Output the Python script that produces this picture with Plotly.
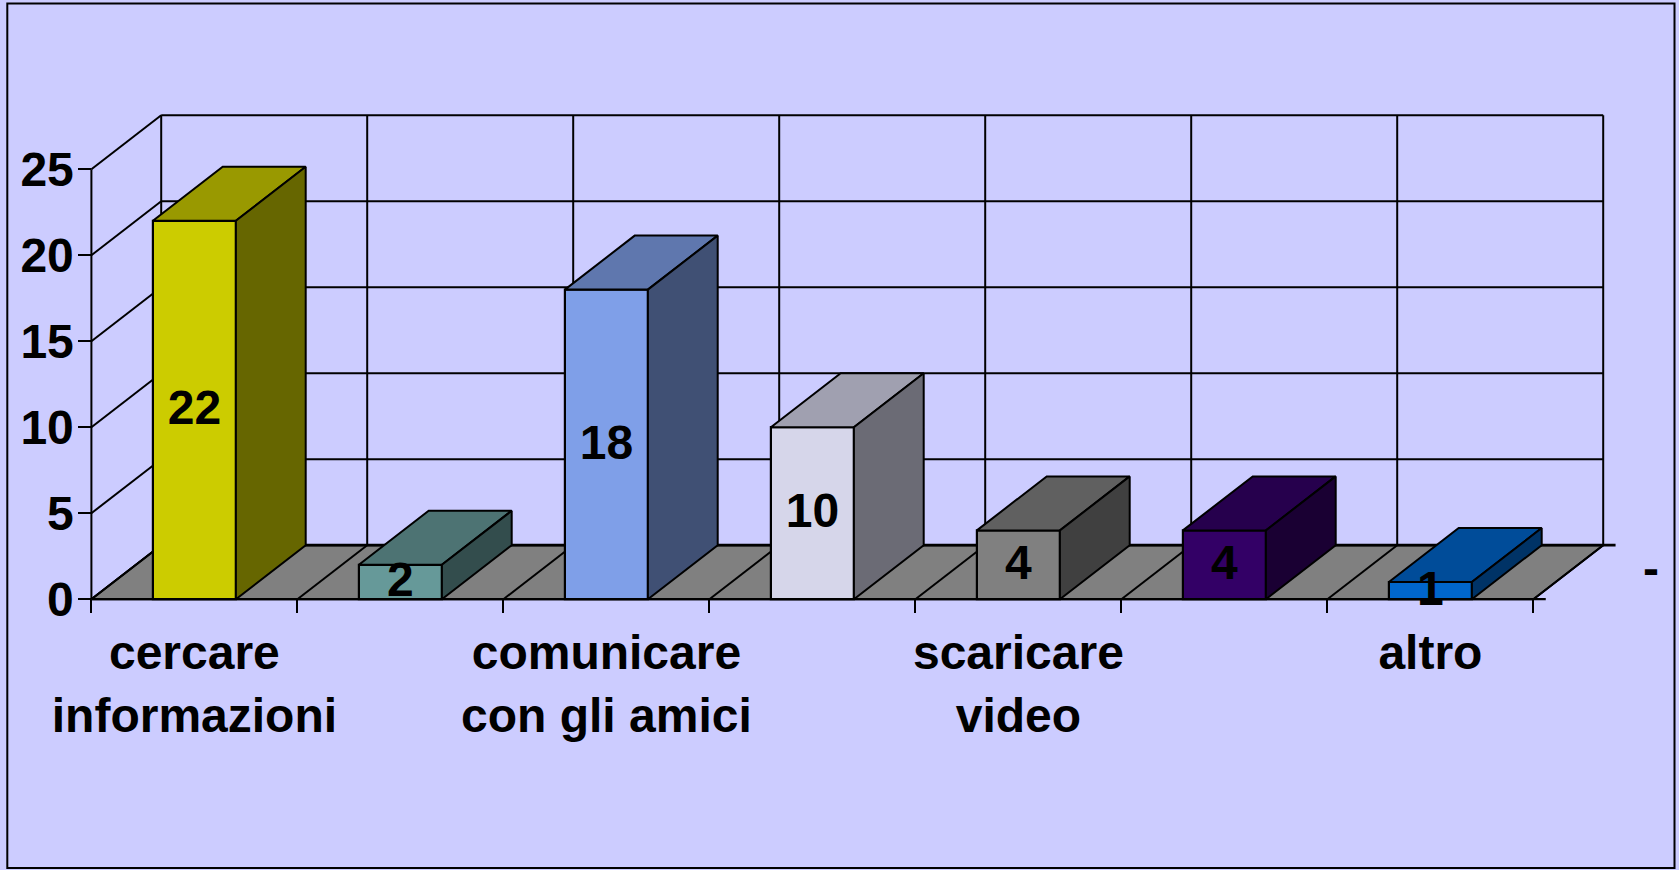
import plotly.graph_objects as go

# ---- data ----
tick_labels = ["cercare<br>informazioni", "", "comunicare<br>con gli amici", "",
               "scaricare<br>video", "", "altro"]
values = [22, 2, 18, 10, 4, 4, 1]
front_colors = ["#CCCC00", "#669999", "#7F9FE8", "#D6D6EA", "#808080", "#330066", "#0066CC"]
top_colors = ["#999900", "#4D7373", "#5F77AE", "#A0A0B0", "#606060", "#26004D", "#004C99"]
side_colors = ["#666600", "#334D4D", "#405074", "#6B6B75", "#404040", "#1A0033", "#003366"]
y_ticks = [0, 5, 10, 15, 20, 25]

# ---- geometry of the frame (pixels -> data) ----
W, H = 1679, 870
PX_PER_CAT = 206.0
PX_PER_UNIT = 17.2
X0_PX, Y0_PX = 91.4, 599.2
DEPTH_X = 69.8 / PX_PER_CAT
DEPTH_Y = 54.0 / PX_PER_UNIT
BAR_W = 83.0 / PX_PER_CAT
LABEL_DROP = 2.2 / PX_PER_UNIT
N = len(values)
TOP = y_ticks[-1]
FONT = "Liberation Sans, Arial, sans-serif"
FS = 48
LW = 2

xr = [-X0_PX / PX_PER_CAT, (W - X0_PX) / PX_PER_CAT]
yr = [-(H - Y0_PX) / PX_PER_UNIT, Y0_PX / PX_PER_UNIT]
axis_pos_x = X0_PX / W
axis_pos_y = (H - Y0_PX) / H

fig = go.Figure()


def line(xs, ys, width=LW, axes=("x", "y")):
    fig.add_trace(go.Scatter(x=xs, y=ys, mode="lines", xaxis=axes[0], yaxis=axes[1],
                             line=dict(color="black", width=width),
                             hoverinfo="skip", showlegend=False))


def poly(xs, ys, color, axes=("x", "y")):
    fig.add_trace(go.Scatter(x=xs + xs[:1], y=ys + ys[:1], mode="lines", fill="toself",
                             fillcolor=color, xaxis=axes[0], yaxis=axes[1],
                             line=dict(color="black", width=LW),
                             hoverinfo="skip", showlegend=False))


# back wall + side wall grid
for v in y_ticks:
    line([DEPTH_X, N + DEPTH_X], [v + DEPTH_Y] * 2)
    line([0, DEPTH_X], [v, v + DEPTH_Y])
for k in range(N + 1):
    line([k + DEPTH_X] * 2, [DEPTH_Y, TOP + DEPTH_Y])
line([0, 0], [0, TOP])

# floor
poly([0, N, N + DEPTH_X, DEPTH_X], [0, 0, DEPTH_Y, DEPTH_Y], "#808080")
for k in range(N + 1):
    line([k, k + DEPTH_X], [0, DEPTH_Y])
line([0, N + 0.06], [0, 0], width=2.2)
line([DEPTH_X, N + DEPTH_X + 0.06], [DEPTH_Y, DEPTH_Y], width=2.8)

# bars: front faces as real bars, depth faces derived from the same values
centers = [i + 0.5 for i in range(N)]
fig.add_trace(go.Bar(x=centers, y=values, width=BAR_W, xaxis="x2", yaxis="y2",
                     marker=dict(color=front_colors, line=dict(color="black", width=LW + 0.2)),
                     hoverinfo="skip", showlegend=False))
for c, v, tc, sc in zip(centers, values, top_colors, side_colors):
    l, r = c - BAR_W / 2, c + BAR_W / 2
    poly([l, r, r + DEPTH_X, l + DEPTH_X], [v, v, v + DEPTH_Y, v + DEPTH_Y], tc, ("x2", "y2"))
    poly([r, r + DEPTH_X, r + DEPTH_X, r], [0, DEPTH_Y, v + DEPTH_Y, v], sc, ("x2", "y2"))

# value labels
fig.add_trace(go.Scatter(x=centers, y=[v / 2 - LABEL_DROP for v in values], mode="text",
                         xaxis="x2", yaxis="y2",
                         text=[str(v) for v in values], textposition="middle center",
                         textfont=dict(family=FONT, size=FS, color="black", weight="bold"),
                         hoverinfo="skip", showlegend=False, cliponaxis=False))

tick_font = dict(family=FONT, size=FS, color="black", weight="bold")
fig.update_layout(
    width=W, height=H, margin=dict(l=0, r=0, t=0, b=0),
    paper_bgcolor="#CCCCFF", plot_bgcolor="rgba(0,0,0,0)", showlegend=False,
    xaxis=dict(range=xr, domain=[0, 1], anchor="free", position=axis_pos_y, showgrid=False,
               zeroline=False, showline=False, tickmode="array",
               tickvals=list(range(N + 1)), ticktext=[""] * (N + 1),
               ticks="outside", ticklen=13, tickwidth=2, tickcolor="black"),
    yaxis=dict(range=yr, domain=[0, 1], anchor="free", position=axis_pos_x, showgrid=False,
               zeroline=False, showline=False, tickmode="array",
               tickvals=y_ticks, ticktext=[str(t) for t in y_ticks],
               ticks="outside", ticklen=13, tickwidth=2, tickcolor="black",
               tickfont=tick_font, ticklabelstandoff=-5),
    xaxis2=dict(range=xr, domain=[0, 1], overlaying="x", anchor="free", position=axis_pos_y,
                showgrid=False, zeroline=False, showline=False, tickmode="array",
                tickvals=centers, ticktext=tick_labels, ticks="", tickangle=0,
                tickfont=tick_font, ticklabelstandoff=21),
    yaxis2=dict(range=yr, domain=[0, 1], overlaying="y", anchor="free", position=axis_pos_x,
                visible=False),
    shapes=[dict(type="rect", xref="paper", yref="paper",
                 x0=7.3 / W, x1=1674.5 / W, y0=1 - 868 / H, y1=1 - 3.5 / H,
                 line=dict(color="black", width=2), fillcolor="rgba(0,0,0,0)", layer="below")],
    annotations=[dict(text="<b>-</b>", xref="paper", yref="paper", x=1650.5 / W, y=1 - 568 / H,
                      showarrow=False, font=dict(family=FONT, size=FS, color="black"),
                      xanchor="center", yanchor="middle")],
)

fig.write_html("out.html", config={"displayModeBar": False},
               post_script="document.body.style.margin='0';document.body.style.overflow='hidden';document.body.style.background='#CCCCFF';")
